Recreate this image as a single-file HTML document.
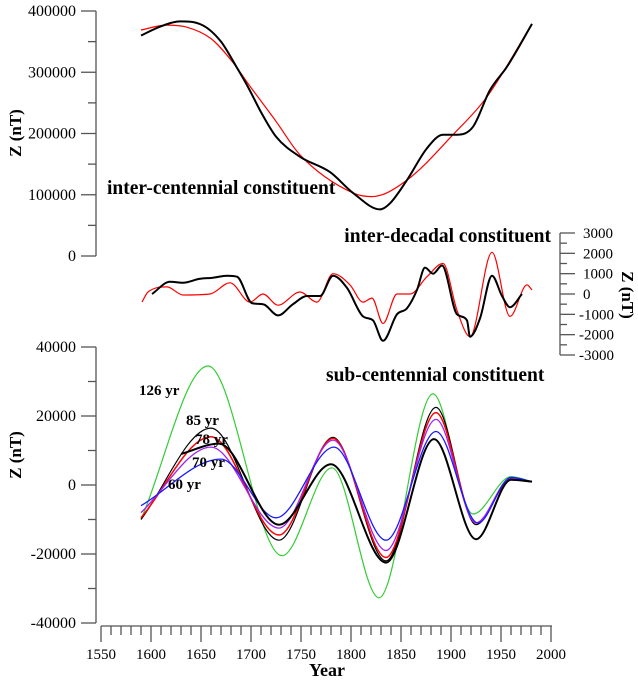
<!DOCTYPE html>
<html><head><meta charset="utf-8"><style>
html,body{margin:0;padding:0;background:#fff}
svg{display:block;font-family:"Liberation Serif",serif}
</style></head><body>
<svg id="c" width="638" height="682" viewBox="0 0 638 682" xmlns="http://www.w3.org/2000/svg">
<g id="axes"></g><g id="marks"></g><g id="labels"></g>
</svg>
<script>
// Top panel: inter-centennial
const topBlackYears=[1590,1610,1629,1650,1670,1685,1697,1710,1725,1749,1779,1802,1829,1839,1856,1876,1892,1906,1922,1939,1956,1981];
const topBlackVals=[360000,375000,383000,378000,350000,310000,276000,235000,195000,162000,137000,103000,76000,86000,124000,176000,198000,198000,211000,271000,309000,379000];
const topRedYears=[1590,1615,1635,1660,1680,1700,1725,1749,1802,1821,1856,1902,1936,1981];
const topRedVals=[369000,377000,374000,355000,320000,275000,220000,165000,103000,97000,124000,198000,260000,379000];
// Middle panel: inter-decadal
const midBlackYears=[1601,1619,1632,1649,1662,1676,1686,1701,1712,1727,1742,1756,1769,1782,1796,1812,1822,1832,1846,1856,1866,1874,1882,1891,1906,1916,1919,1929,1941,1951,1959,1971];
const midBlackVals=[0,600,550,750,800,900,850,-450,-500,-1050,-500,-100,-100,900,300,-1100,-1300,-2300,-1000,-700,200,1300,1000,1400,-1000,-1300,-2100,-1200,900,-100,-650,0];
const midRedYears=[1591,1597,1616,1632,1659,1679,1699,1712,1727,1749,1766,1782,1799,1812,1821,1832,1846,1859,1876,1892,1906,1919,1941,1959,1976,1981];
const midRedVals=[-400,100,350,-50,0,550,-400,0,-550,100,-400,1000,450,-400,-200,-1450,0,0,850,1500,-800,-2100,2050,-1100,450,200];
// Bottom panel: sub-centennial
const subYears=[1590,1660,1728,1782,1835,1885,1925,1960,1981];
const greenVals=[-10000,34500,-20500,5000,-32700,26400,-8400,2400,1000];
const greenYears=[1590,1657,1731,1781,1828,1882,1922,1960,1981];
const black85Vals=[-10000,16500,-16000,13800,-22000,22500,-11500,1800,1000];
const redVals=[-9500,14000,-14500,13500,-21000,21000,-11000,1500,1000];
const purpleVals=[-8000,11000,-12500,13000,-19000,19000,-11000,2000,1000];
const blueYears=[1590,1670,1725,1783,1835,1885,1927,1960,1981];
const blueVals=[-6000,7500,-9500,11000,-16000,15500,-11000,2200,1000];
const thickYears=[1630,1668,1728,1780,1835,1883,1925,1960,1981];
const thickVals=[9000,12000,-11500,6000,-22500,13300,-15700,1500,1000];
const xTicks=[1550,1600,1650,1700,1750,1800,1850,1900,1950,2000];
const topTicks=[0,100000,200000,300000,400000];
const botTicks=[-40000,-20000,0,20000,40000];
const midTicks=[-3000,-2000,-1000,0,1000,2000,3000];

const NS="http://www.w3.org/2000/svg";
const X=y=>101+(y-1550);
const YT=v=>256-v/400000*245;
const YB=v=>485-v/40000*138;
const YM=v=>294-v/3000*61;
function el(tag,attrs,parent,text){const e=document.createElementNS(NS,tag);for(const k in attrs)e.setAttribute(k,attrs[k]);if(text!==undefined)e.textContent=text;document.getElementById(parent).appendChild(e);return e;}
function mono(xs,ys){const n=xs.length,d=[],m=new Array(n);for(let i=0;i<n-1;i++)d.push((ys[i+1]-ys[i])/(xs[i+1]-xs[i]));m[0]=d[0];m[n-1]=d[n-2];for(let i=1;i<n-1;i++){m[i]=(d[i-1]*d[i]<=0)?0:(d[i-1]+d[i])/2;}
for(let i=0;i<n-1;i++){if(d[i]===0){m[i]=0;m[i+1]=0;continue;}const a=m[i]/d[i],b=m[i+1]/d[i],s=a*a+b*b;if(s>9){const t=3/Math.sqrt(s);m[i]=t*a*d[i];m[i+1]=t*b*d[i];}}
let p="M"+xs[0].toFixed(1)+","+ys[0].toFixed(1);for(let i=0;i<n-1;i++){const h=(xs[i+1]-xs[i])/3;p+=" C"+(xs[i]+h).toFixed(1)+","+(ys[i]+m[i]*h).toFixed(1)+" "+(xs[i+1]-h).toFixed(1)+","+(ys[i+1]-m[i+1]*h).toFixed(1)+" "+xs[i+1].toFixed(1)+","+ys[i+1].toFixed(1);}return p;}
function line(years,vals,Y,color,w,name){const p=el("path",{d:mono(years.map(X),vals.map(Y)),fill:"none",stroke:color,"stroke-width":w},"marks");

}

const ax="#555";
let a=el("line",{x1:96,y1:11,x2:96,y2:256,stroke:ax,"stroke-width":1.3},"axes");

for(let v=0;v<=400000;v+=50000){el("line",{x1:v%100000?88:81,y1:YT(v),x2:96,y2:YT(v),stroke:ax,"stroke-width":1.3},"axes");}
topTicks.forEach(v=>{const t=el("text",{x:76,y:YT(v)+5,"text-anchor":"end","font-size":16},"labels",String(v));
});
a=el("line",{x1:96,y1:347,x2:96,y2:623,stroke:ax,"stroke-width":1.3},"axes");

for(let v=-40000;v<=40000;v+=10000){el("line",{x1:v%20000?88:81,y1:YB(v),x2:96,y2:YB(v),stroke:ax,"stroke-width":1.3},"axes");}
botTicks.forEach(v=>{const t=el("text",{x:76,y:YB(v)+5,"text-anchor":"end","font-size":16},"labels",String(v));
});
a=el("line",{x1:560,y1:233,x2:560,y2:355,stroke:ax,"stroke-width":1.3},"axes");

for(let v=-3000;v<=3000;v+=500){el("line",{x1:560,y1:YM(v),x2:v%1000?567:575,y2:YM(v),stroke:ax,"stroke-width":1.3},"axes");}
midTicks.forEach(v=>{const t=el("text",{x:v<0?579:583,y:YM(v)+5,"font-size":15},"labels",String(v));
});
a=el("line",{x1:101,y1:626,x2:552,y2:626,stroke:ax,"stroke-width":1.3},"axes");

for(let y=1550;y<=2000;y+=10){el("line",{x1:X(y),y1:626,x2:X(y),y2:y%50?635:642,stroke:ax,"stroke-width":1.3},"axes");}
xTicks.forEach(y=>{const t=el("text",{x:X(y),y:659,"text-anchor":"middle","font-size":15},"labels",String(y));
});

line(topRedYears,topRedVals,YT,"#f00",1.2,"top-red-line");
line(topBlackYears,topBlackVals,YT,"#000",2,"top-black-line");
line(midRedYears,midRedVals,YM,"#f00",1.2,"mid-red-line");
line(midBlackYears,midBlackVals,YM,"#000",2,"mid-black-line");
line(greenYears,greenVals,YB,"#33cc33",1.2,"series-126yr");
line(subYears,black85Vals,YB,"#000",1.2,"series-85yr");
line(subYears,redVals,YB,"#f00",1.5,"series-red");
line(subYears,purpleVals,YB,"#a020f0",1.3,"series-70yr");
line(blueYears,blueVals,YB,"#1a1aff",1.3,"series-60yr");
line(thickYears,thickVals,YB,"#000",2,"series-78yr");

function lab(x,y,s,txt,name,extra){const t=el("text",Object.assign({x:x,y:y,"font-size":s,"font-weight":"bold"},extra||{}),"labels",txt);
}
lab(107,194,19.5,"inter-centennial constituent","top-title");
lab(551,242,19.5,"inter-decadal constituent","middle-title",{"text-anchor":"end"});
lab(326,381,19.5,"sub-centennial constituent","bottom-title");
lab(139,395,15,"126 yr","label-126yr");
lab(186,425,15,"85 yr","label-85yr");
lab(195,444,15,"78 yr","label-78yr");
lab(192,467,15,"70 yr","label-70yr");
lab(168,489,15,"60 yr","label-60yr");
lab(327,676,18,"Year","x-axis-title",{"text-anchor":"middle"});
lab(0,0,17,"Z (nT)","top-y-axis-title",{"text-anchor":"middle",transform:"translate(21,133) rotate(-90)"});
lab(0,0,17,"Z (nT)","bottom-y-axis-title",{"text-anchor":"middle",transform:"translate(21,455) rotate(-90)"});
lab(0,0,17,"Z (nT)","middle-y-axis-title",{"text-anchor":"middle",transform:"translate(622,295) rotate(90)"});
</script>
</body></html>
